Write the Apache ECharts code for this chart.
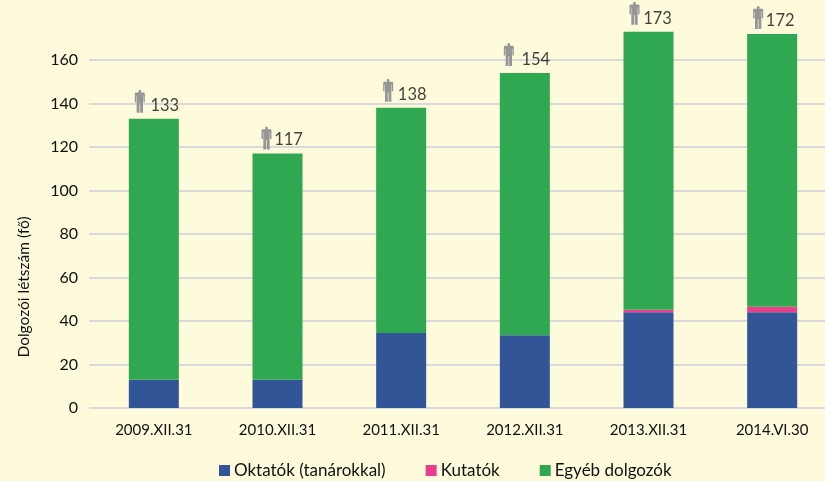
<!DOCTYPE html>
<html>
<head>
<meta charset="utf-8">
<style>
  html, body { margin: 0; padding: 0; background: #fefadc; }
  #main { width: 825px; height: 481px; }
</style>
<script src="https://cdn.jsdelivr.net/npm/echarts@6/dist/echarts.min.js"></script>
</head>
<body>
<div id="main"></div>
<script>
const categories = ['2009.XII.31', '2010.XII.31', '2011.XII.31', '2012.XII.31', '2013.XII.31', '2014.VI.30'];
const oktatok = [13, 13, 34.5, 33.5, 44, 44];
const kutatok = [0, 0, 0, 0, 1.2, 2.5];
const egyeb = [120, 104, 103.5, 120.5, 127.8, 125.5];
const totals = [133, 117, 138, 154, 173, 172];

// the little person next to each total
const personPath = 'path://M6 0a1.700 1.700 0 0 1 1.200 2.900H10.500a1.500 1.500 0 0 1 1.500 1.500V13H10.300V6H9.800V24H6.400V14H5.600V24H2.200V6H1.700V13H0V4.400a1.500 1.500 0 0 1 1.500-1.500H4.800A1.700 1.700 0 0 1 6 0z';
const iconShift = [[-14, -17.5], [-11, -15.5], [-13, -17.5], [-16, -18.5], [-14, -18.5], [-14, -16.5]];
const labelShift = [[11, 0], [11, 0], [11, 0], [11, 0], [9, 0], [8, 0]];

const font = 'Lato';
const textColor = '#111';

const option = {
  animation: false,
  backgroundColor: '#fefadc',
  textStyle: { fontFamily: font, color: textColor },
  grid: { left: 92, top: 16.5, width: 742, height: 391.5, outerBoundsMode: 'none' },
  legend: {
    data: ['Oktatók (tanárokkal)', 'Kutatók', 'Egyéb dolgozók'],
    left: 214,
    top: 457,
    icon: 'rect',
    itemWidth: 11,
    itemHeight: 11,
    itemGap: 40,
    textStyle: { fontFamily: font, fontSize: 17, color: textColor, padding: [0, 0, 0, -1] },
  },
  xAxis: {
    type: 'category',
    data: categories,
    axisTick: { show: false },
    axisLine: { lineStyle: { color: '#d9d9e6', width: 1 } },
    axisLabel: { fontFamily: font, fontSize: 15, color: textColor, margin: 15 },
  },
  yAxis: {
    type: 'value',
    min: 0,
    max: 180,
    interval: 20,
    axisLine: { show: false },
    axisTick: { show: true, length: 3, lineStyle: { color: '#d9d9d9', width: 2 } },
    axisLabel: { fontFamily: font, fontSize: 16, color: textColor, margin: 14, showMaxLabel: false },
    splitLine: { showMaxLine: false, lineStyle: { color: '#d9d9d9', width: 2 } },
  },
  graphic: [
    {
      type: 'text',
      x: 24,
      y: 287,
      rotation: Math.PI / 2,
      style: {
        text: 'Dolgozói létszám (fő)',
        fontFamily: font,
        fontSize: 15.5,
        fill: textColor,
        align: 'center',
        verticalAlign: 'middle',
      },
    },
  ],
  series: [
    { name: 'Oktatók (tanárokkal)', type: 'bar', stack: 'dolgozok', barWidth: 50, data: oktatok, itemStyle: { color: '#315597' } },
    { name: 'Kutatók', type: 'bar', stack: 'dolgozok', barWidth: 50, data: kutatok, itemStyle: { color: '#e83e8c' } },
    { name: 'Egyéb dolgozók', type: 'bar', stack: 'dolgozok', barWidth: 50, data: egyeb, itemStyle: { color: '#30a852' } },
    {
      name: 'ikon',
      type: 'scatter',
      symbol: personPath,
      symbolSize: [10, 23],
      itemStyle: { color: '#969696', opacity: 1 },
      data: totals.map((v, i) => ({ value: v, symbolOffset: iconShift[i] })),
      z: 5,
    },
    {
      name: 'osszes',
      type: 'scatter',
      symbolSize: 0,
      data: totals.map((v, i) => ({
        value: v,
        label: {
          show: true,
          position: 'top',
          distance: 5,
          offset: labelShift[i],
          fontFamily: font,
          fontSize: 16.5,
          color: textColor,
        },
      })),
      z: 6,
    },
  ],
};

const myChart = echarts.init(document.getElementById('main'));
myChart.setOption(option);
</script>
</body>
</html>
